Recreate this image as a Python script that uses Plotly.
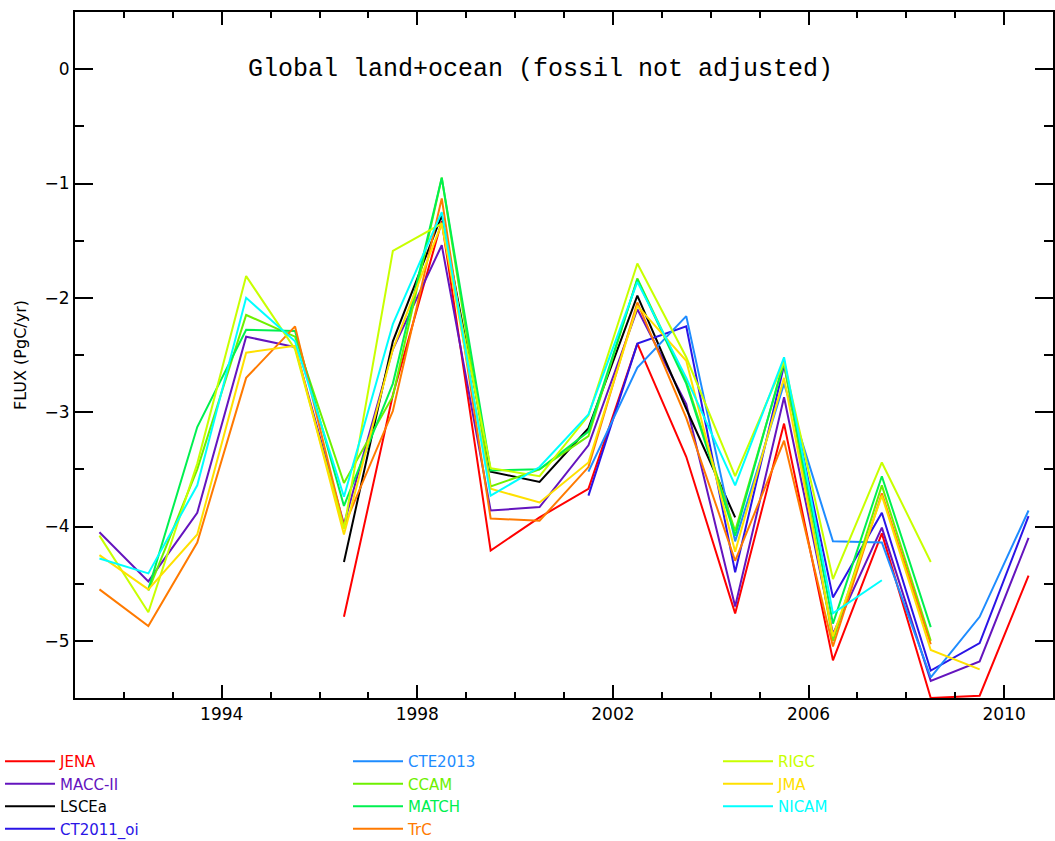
import plotly.graph_objects as go

years = [1991.5 + i for i in range(20)]
N = None

jena = [N, N, N, N, N, -4.79, -2.85, -1.33, -4.21, -3.92, -3.67, -2.40, -3.39, -4.76, -3.10, -5.17, -4.06, -5.50, -5.48, -4.43]
macc = [-4.05, -4.48, -3.88, -2.34, -2.43, -3.98, -2.45, -1.54, -3.86, -3.83, -3.29, -2.10, -2.93, -4.70, -2.87, -4.94, -4.01, -5.35, -5.18, -4.10]
lscea = [N, N, N, N, N, -4.31, -2.38, -1.28, -3.52, -3.61, -3.14, -1.98, -2.97, -3.92, N, N, N, N, N, N]
ct2011 = [N, N, N, N, N, N, N, N, N, N, -3.73, -2.40, -2.25, -4.40, -2.59, -4.62, -3.88, -5.26, -5.02, -3.91]
cte2013 = [N, N, N, N, N, N, N, N, N, N, -3.52, -2.61, -2.16, -4.13, -2.75, -4.13, -4.14, -5.32, -4.79, -3.86]
ccam = [N, -4.56, -3.50, -2.15, -2.34, -3.62, -2.86, -0.95, -3.65, -3.50, -3.21, -1.83, -2.73, -4.04, -2.57, -5.00, -3.64, -5.00, N, N]
match = [N, -4.55, -3.13, -2.28, -2.29, -3.82, -2.75, -0.95, -3.51, -3.50, -3.17, -1.84, -2.75, -4.08, -2.55, -4.85, -3.56, -4.88, N, N]
trc = [-4.55, -4.87, -4.14, -2.70, -2.25, -4.00, -2.99, -1.13, -3.93, -3.95, -3.48, -2.04, -3.05, -4.30, -3.25, -5.05, -3.71, -5.03, N, N]
rigc = [-4.08, -4.75, -3.45, -1.81, -2.45, -4.02, -1.59, -1.35, -3.49, -3.56, -3.03, -1.70, -2.52, -3.56, -2.56, -4.46, -3.44, -4.31, N, N]
jma = [-4.25, -4.55, -4.07, -2.48, -2.42, -4.07, -2.45, -1.35, -3.67, -3.79, -3.44, -2.07, -2.55, -4.22, -2.70, -4.96, -3.73, -5.08, -5.25, N]
nicam = [-4.28, -4.41, -3.64, -2.00, -2.38, -3.74, -2.23, -1.25, -3.73, -3.48, -3.02, -1.86, -2.70, -3.64, -2.52, -4.76, -4.47, N, N, N]

series = [
    ("JENA", jena, "#FF0000", "legend"),
    ("MACC-II", macc, "#6414BE", "legend"),
    ("LSCEa", lscea, "#000000", "legend"),
    ("CT2011_oi", ct2011, "#2A14E6", "legend"),
    ("CTE2013", cte2013, "#1E8CFF", "legend2"),
    ("CCAM", ccam, "#6EF000", "legend2"),
    ("MATCH", match, "#00F050", "legend2"),
    ("TrC", trc, "#FF7A00", "legend2"),
    ("RIGC", rigc, "#C8FF00", "legend3"),
    ("JMA", jma, "#FFE000", "legend3"),
    ("NICAM", nicam, "#00FFFF", "legend3"),
]

title_text = "Global land+ocean (fossil not adjusted)"
y_title = "FLUX (PgC/yr)"

fig = go.Figure()
for name, vals, col, leg in series:
    fig.add_trace(go.Scatter(
        x=years, y=vals, mode="lines", connectgaps=False,
        line=dict(color=col, width=2),
        name=f"<span style='color:{col}'>{name}</span>",
        legend=leg,
    ))

font_main = "DejaVu Sans, Liberation Sans, sans-serif"
pw = 1055 - 75 - 2
ph = 841 - 12 - 143

def px_x(a):
    return (a - 75) / pw

def px_y(a):
    return (698 - a) / ph

leg_common = dict(
    orientation="v", xanchor="left", yanchor="top",
    bgcolor="rgba(0,0,0,0)", font=dict(family=font_main, size=15),
    itemwidth=50, tracegroupgap=0, maxheight=400,
)

fig.update_layout(
    width=1055, height=841,
    margin=dict(l=75, r=2, t=12, b=143, autoexpand=False),
    paper_bgcolor="white", plot_bgcolor="white",
    font=dict(family=font_main, size=16, color="black"),
    showlegend=True,
    legend=dict(x=px_x(0), y=px_y(745), **leg_common),
    legend2=dict(x=px_x(348), y=px_y(745), **leg_common),
    legend3=dict(x=px_x(718), y=px_y(745), **leg_common),
    xaxis=dict(
        range=[1991, 2011], tick0=1994, dtick=4,
        ticks="inside", ticklen=13, tickwidth=2, tickcolor="black",
        showline=True, linewidth=2, linecolor="black", mirror="ticks",
        showgrid=False, zeroline=False,
        tickfont=dict(family=font_main, size=17, color="black"),
        minor=dict(tick0=1991, dtick=1, ticks="inside", ticklen=6, tickwidth=2, tickcolor="black", showgrid=False),
    ),
    yaxis=dict(
        range=[-5.5, 0.5], tick0=0, dtick=1,
        ticks="inside", ticklen=18, tickwidth=2, tickcolor="black",
        showline=True, linewidth=2, linecolor="black", mirror="ticks",
        showgrid=False, zeroline=False,
        tickfont=dict(family=font_main, size=17, color="black"),
        minor=dict(dtick=0.5, ticks="inside", ticklen=9, tickwidth=2, tickcolor="black", showgrid=False),
        title=dict(text=y_title, font=dict(family=font_main, size=16, color="black"), standoff=14),
    ),
    annotations=[dict(
        text=title_text, xref="paper", yref="paper",
        x=px_x(540), y=px_y(70), xanchor="center", yanchor="middle",
        showarrow=False, font=dict(family="Liberation Mono, DejaVu Sans Mono, monospace", size=25, color="black"),
    )],
)

fig.write_html("out.html")
